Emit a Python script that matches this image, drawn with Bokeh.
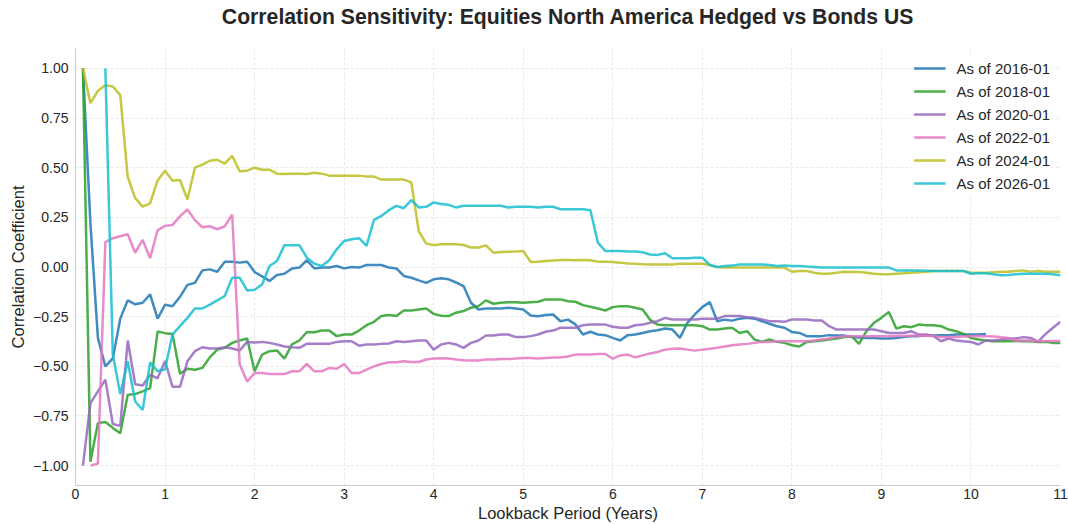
import numpy as np
from bokeh.plotting import figure
from bokeh.models import Range1d, FixedTicker, CustomJSTickFormatter, Legend, LegendItem, Title
from bokeh.embed import file_html
from bokeh.resources import INLINE

# ---- data (lookback measured in months; first month index per series) ----
series_labels = ["As of 2016-01", "As of 2018-01", "As of 2020-01",
                 "As of 2022-01", "As of 2024-01", "As of 2026-01"]
series_colors = ["#1f77b4", "#2ca02c", "#9467bd", "#e377c2", "#bcbd22", "#17becf"]
start_months = [1, 1, 1, 2, 1, 4]

corr_2016 = [1.00, 0.22, -0.357, -0.50, -0.46, -0.26, -0.168, -0.188, -0.18, -0.138,
             -0.26, -0.19, -0.198, -0.15, -0.09, -0.08, -0.017, -0.012, -0.024, 0.027,
             0.027, 0.022, 0.027, -0.025, -0.047, -0.07, -0.04, -0.034, -0.007, -0.003,
             0.034, -0.007, -0.003, -0.003, 0.005, -0.007, 0.0, -0.003, 0.01, 0.01,
             0.01, -0.003, -0.007, -0.045, -0.054, -0.067, -0.08, -0.062, -0.057, -0.062,
             -0.078, -0.096, -0.18, -0.214, -0.209, -0.209, -0.209, -0.205, -0.209, -0.214,
             -0.244, -0.248, -0.242, -0.239, -0.273, -0.265, -0.289, -0.34, -0.326, -0.34,
             -0.343, -0.357, -0.37, -0.343, -0.34, -0.332, -0.323, -0.318, -0.31, -0.315,
             -0.357, -0.281, -0.239, -0.202, -0.177, -0.273, -0.265, -0.27, -0.26, -0.256,
             -0.26, -0.273, -0.286, -0.298, -0.306, -0.327, -0.332, -0.348, -0.348, -0.348,
             -0.343, -0.345, -0.345, -0.353, -0.355, -0.357, -0.357, -0.36, -0.36, -0.357,
             -0.353, -0.348, -0.348, -0.345, -0.345, -0.343, -0.343, -0.34, -0.34, -0.34,
             -0.34, -0.337]

corr_2018 = [1.00, -0.98, -0.786, -0.78, -0.81, -0.837, -0.643, -0.64, -0.626, -0.61,
             -0.325, -0.333, -0.337, -0.537, -0.512, -0.517, -0.508, -0.455, -0.416, -0.407,
             -0.382, -0.37, -0.36, -0.525, -0.441, -0.424, -0.42, -0.461, -0.39, -0.37,
             -0.327, -0.328, -0.32, -0.32, -0.348, -0.34, -0.34, -0.32, -0.293, -0.276,
             -0.247, -0.242, -0.247, -0.219, -0.219, -0.214, -0.209, -0.236, -0.245, -0.247,
             -0.23, -0.222, -0.205, -0.197, -0.168, -0.185, -0.18, -0.177, -0.177, -0.18,
             -0.177, -0.175, -0.163, -0.163, -0.163, -0.172, -0.175, -0.192, -0.2, -0.209,
             -0.219, -0.202, -0.197, -0.197, -0.205, -0.214, -0.266, -0.29, -0.293, -0.293,
             -0.293, -0.293, -0.293, -0.298, -0.315, -0.315, -0.31, -0.306, -0.332, -0.323,
             -0.365, -0.377, -0.365, -0.377, -0.382, -0.394, -0.40, -0.377, -0.374, -0.37,
             -0.365, -0.36, -0.353, -0.348, -0.387, -0.323, -0.281, -0.256, -0.226, -0.31,
             -0.298, -0.303, -0.29, -0.293, -0.293, -0.298, -0.315, -0.323, -0.337, -0.357,
             -0.365, -0.37, -0.374, -0.374, -0.374, -0.372, -0.374, -0.374, -0.377, -0.377,
             -0.382, -0.382]

corr_2020 = [-1.00, -0.685, -0.626, -0.567, -0.79, -0.80, -0.37, -0.59, -0.597, -0.543,
             -0.56, -0.473, -0.603, -0.603, -0.475, -0.424, -0.404, -0.41, -0.41, -0.404,
             -0.41, -0.42, -0.377, -0.38, -0.377, -0.382, -0.39, -0.40, -0.404, -0.407,
             -0.387, -0.387, -0.387, -0.387, -0.377, -0.374, -0.374, -0.396, -0.39, -0.39,
             -0.387, -0.385, -0.374, -0.377, -0.374, -0.37, -0.37, -0.416, -0.39, -0.382,
             -0.39, -0.407, -0.382, -0.37, -0.345, -0.345, -0.34, -0.34, -0.353, -0.353,
             -0.348, -0.34, -0.326, -0.32, -0.306, -0.306, -0.306, -0.293, -0.29, -0.29,
             -0.29, -0.301, -0.306, -0.306, -0.293, -0.29, -0.281, -0.273, -0.256, -0.264,
             -0.264, -0.264, -0.264, -0.26, -0.26, -0.26, -0.247, -0.247, -0.247, -0.253,
             -0.256, -0.264, -0.273, -0.273, -0.276, -0.264, -0.264, -0.264, -0.269, -0.269,
             -0.298, -0.315, -0.315, -0.315, -0.315, -0.315, -0.315, -0.323, -0.332, -0.332,
             -0.332, -0.323, -0.34, -0.34, -0.348, -0.374, -0.36, -0.37, -0.374, -0.377,
             -0.39, -0.37, -0.37, -0.365, -0.36, -0.36, -0.353, -0.357, -0.377, -0.337,
             -0.306, -0.276]

corr_2022 = [-1.00, -0.99, 0.125, 0.145, 0.155, 0.165, 0.072, 0.136, 0.044, 0.185,
             0.207, 0.212, 0.255, 0.29, 0.236, 0.20, 0.205, 0.19, 0.205, 0.263,
             -0.49, -0.576, -0.534, -0.534, -0.539, -0.539, -0.539, -0.525, -0.525, -0.488,
             -0.525, -0.525, -0.508, -0.512, -0.488, -0.534, -0.534, -0.517, -0.50, -0.488,
             -0.48, -0.48, -0.475, -0.478, -0.478, -0.466, -0.461, -0.46, -0.461, -0.466,
             -0.47, -0.471, -0.471, -0.466, -0.466, -0.463, -0.463, -0.461, -0.458, -0.458,
             -0.461, -0.458, -0.455, -0.455, -0.45, -0.441, -0.441, -0.441, -0.438, -0.438,
             -0.461, -0.445, -0.441, -0.455, -0.445, -0.435, -0.428, -0.416, -0.412, -0.41,
             -0.416, -0.421, -0.416, -0.412, -0.407, -0.40, -0.394, -0.39, -0.387, -0.382,
             -0.377, -0.377, -0.374, -0.374, -0.374, -0.374, -0.374, -0.37, -0.365, -0.36,
             -0.353, -0.348, -0.348, -0.348, -0.348, -0.348, -0.348, -0.348, -0.347, -0.347,
             -0.346, -0.345, -0.346, -0.348, -0.353, -0.352, -0.353, -0.35, -0.348, -0.347,
             -0.348, -0.35, -0.353, -0.357, -0.37, -0.37, -0.37, -0.374, -0.372, -0.372,
             -0.372]

corr_2024 = [1.00, 0.825, 0.887, 0.915, 0.909, 0.865, 0.453, 0.347, 0.304, 0.32,
             0.436, 0.485, 0.434, 0.438, 0.34, 0.50, 0.515, 0.535, 0.54, 0.52,
             0.56, 0.482, 0.485, 0.50, 0.49, 0.49, 0.47, 0.468, 0.47, 0.47,
             0.468, 0.475, 0.47, 0.46, 0.46, 0.46, 0.46, 0.46, 0.455, 0.455,
             0.44, 0.44, 0.44, 0.44, 0.426, 0.18, 0.118, 0.11, 0.115, 0.115,
             0.115, 0.111, 0.098, 0.098, 0.109, 0.072, 0.075, 0.077, 0.078, 0.081,
             0.025, 0.027, 0.03, 0.033, 0.035, 0.035, 0.034, 0.035, 0.034, 0.027,
             0.027, 0.025, 0.022, 0.018, 0.016, 0.014, 0.013, 0.013, 0.013, 0.013,
             0.016, 0.016, 0.016, 0.016, 0.01, 0.0, -0.003, -0.003, -0.003, -0.003,
             -0.003, -0.003, -0.003, -0.003, -0.003, -0.024, -0.02, -0.02, -0.029, -0.034,
             -0.034, -0.029, -0.024, -0.025, -0.025, -0.029, -0.034, -0.037, -0.037, -0.034,
             -0.032, -0.029, -0.026, -0.024, -0.02, -0.02, -0.02, -0.02, -0.02, -0.029,
             -0.029, -0.029, -0.026, -0.024, -0.024, -0.02, -0.017, -0.024, -0.02, -0.024,
             -0.024, -0.024]

corr_2026 = [1.00, -0.44, -0.64, -0.475, -0.677, -0.72, -0.48, -0.525, -0.515, -0.34,
             -0.298, -0.256, -0.209, -0.209, -0.189, -0.168, -0.146, -0.054, -0.054, -0.118,
             -0.115, -0.088, 0.005, 0.03, 0.11, 0.11, 0.11, 0.047, 0.017, 0.005,
             0.034, 0.089, 0.131, 0.14, 0.145, 0.106, 0.237, 0.257, 0.286, 0.308,
             0.296, 0.337, 0.30, 0.303, 0.325, 0.317, 0.313, 0.30, 0.308, 0.308,
             0.308, 0.308, 0.308, 0.308, 0.30, 0.303, 0.303, 0.303, 0.30, 0.303,
             0.303, 0.291, 0.291, 0.291, 0.291, 0.286, 0.123, 0.081, 0.081, 0.081,
             0.078, 0.078, 0.074, 0.063, 0.061, 0.069, 0.044, 0.044, 0.044, 0.047,
             0.047, 0.01, 0.0, 0.005, 0.007, 0.013, 0.013, 0.013, 0.013, 0.01,
             0.005, 0.008, 0.005, 0.005, 0.002, 0.0, -0.003, -0.003, -0.003, -0.003,
             -0.003, -0.003, -0.003, -0.003, -0.003, -0.003, -0.017, -0.017, -0.017, -0.018,
             -0.019, -0.02, -0.02, -0.02, -0.02, -0.02, -0.034, -0.032, -0.032, -0.037,
             -0.042, -0.04, -0.037, -0.034, -0.034, -0.034, -0.034, -0.037, -0.042]

all_series = [corr_2016, corr_2018, corr_2020, corr_2022, corr_2024, corr_2026]

x_ticks = list(range(0, 12))
y_ticks = [-1.0, -0.75, -0.5, -0.25, 0.0, 0.25, 0.5, 0.75, 1.0]
chart_title = "Correlation Sensitivity: Equities North America Hedged vs Bonds US"

FONT = "Liberation Sans"
TEXT = "#262626"

p = figure(width=1068, height=524,
           x_range=Range1d(0, 11), y_range=Range1d(-1.1, 1.1),
           output_backend="svg", toolbar_location=None,
           min_border_left=75, min_border_right=8, min_border_top=48,
           min_border_bottom=0)

# spacer between frame and title (pushes the title up to the top of the page)
p.add_layout(Title(text=" ", text_font_size="1px", standoff=16), "above")

p.title.text = chart_title
p.title.align = "center"
p.title.text_font = FONT
p.title.text_font_size = "21.2px"
p.title.text_font_style = "bold"
p.title.text_color = TEXT
p.title.standoff = 4

p.outline_line_color = None
p.background_fill_color = "white"
p.border_fill_color = "white"

for ax in (p.xaxis[0], p.yaxis[0]):
    ax.axis_line_color = "#cccccc"
    ax.axis_line_width = 1
    ax.major_tick_line_color = None
    ax.minor_tick_line_color = None
    ax.major_tick_out = 0
    ax.major_tick_in = 0
    ax.minor_tick_out = 0
    ax.major_label_text_font = FONT
    ax.major_label_text_font_size = "14px"
    ax.major_label_text_color = TEXT
    ax.axis_label_text_font = FONT
    ax.axis_label_text_font_size = "16.5px"
    ax.axis_label_text_font_style = "normal"
    ax.axis_label_text_color = TEXT

p.xaxis.axis_label = "Lookback Period (Years)"
p.yaxis.axis_label = "Correlation Coefficient"
p.xaxis.ticker = FixedTicker(ticks=x_ticks)
p.yaxis.ticker = FixedTicker(ticks=y_ticks)
p.xaxis.major_label_standoff = 3
p.xaxis.axis_label_standoff = 2
p.yaxis.major_label_standoff = 7
p.yaxis.axis_label_standoff = 3
p.yaxis.formatter = CustomJSTickFormatter(
    code="return tick.toFixed(2).replace('-', '\u2212');")

p.xgrid.ticker = FixedTicker(ticks=x_ticks)
p.ygrid.ticker = FixedTicker(ticks=y_ticks)
for g in (p.xgrid[0], p.ygrid[0]):
    g.grid_line_color = "#e8e8e8"
    g.grid_line_width = 1
    g.grid_line_dash = "3 2"

items = []
for label, color, start, vals in zip(series_labels, series_colors, start_months, all_series):
    xs = np.arange(start, start + len(vals)) / 12.0
    r = p.line(xs, vals, line_color=color, line_width=2.5, line_alpha=0.85)
    items.append(LegendItem(label=label, renderers=[r]))

legend = Legend(items=items, location="top_right")
legend.label_text_font = FONT
legend.label_text_font_size = "15px"
legend.label_text_color = TEXT
legend.glyph_width = 32
legend.glyph_height = 20
legend.label_height = 20
legend.label_standoff = 11
legend.spacing = 3
legend.padding = 2
legend.margin = 8
legend.border_line_alpha = 0
legend.background_fill_alpha = 0.8
p.add_layout(legend)

open("out.html", "w").write(file_html(p, INLINE))
